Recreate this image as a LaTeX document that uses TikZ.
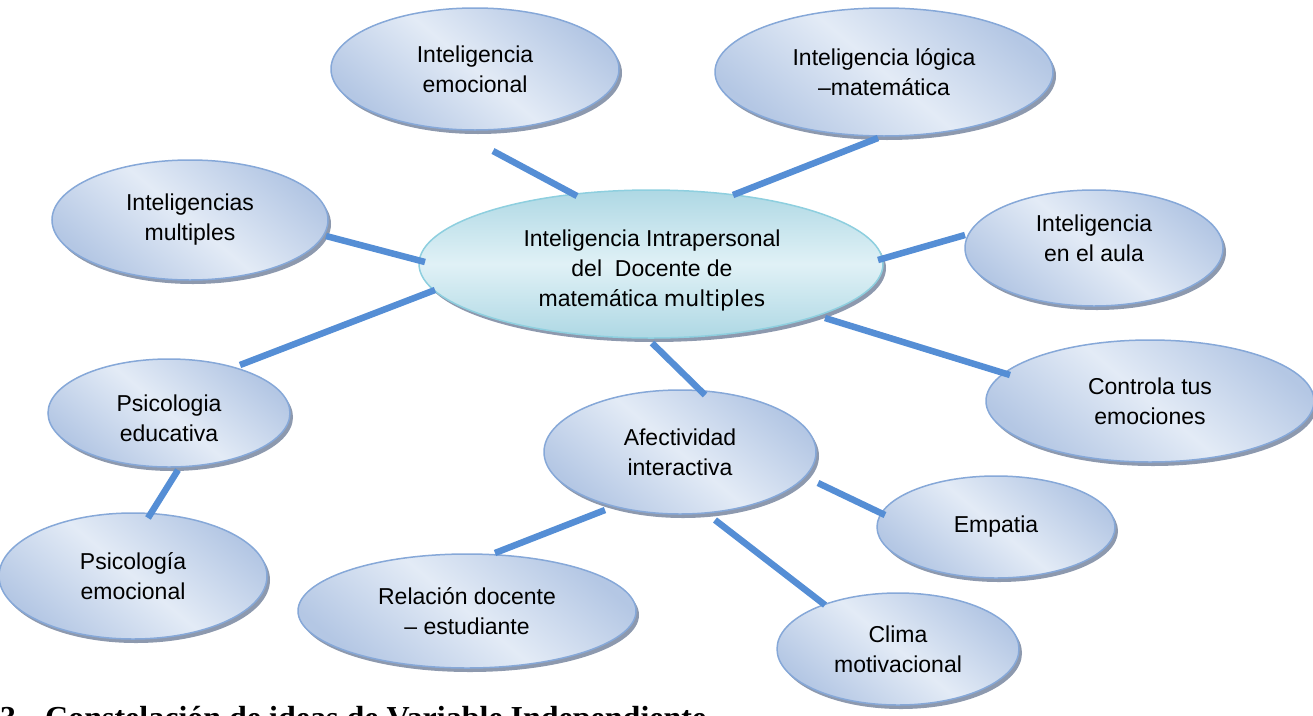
\documentclass[tikz,border=0pt]{standalone}
\usepackage{fontspec}
\setmainfont{Liberation Sans}
\newfontfamily\capfont{Liberation Serif}
\newfontfamily\widefont{DejaVu Sans}
\usetikzlibrary{shapes.geometric,shadows}

\definecolor{bubbleedge}{HTML}{86A8D8}
\definecolor{bubblelight}{HTML}{E3EBF6}
\definecolor{bubbledark}{HTML}{B4C7E4}
\definecolor{coreedge}{HTML}{8ECFDF}
\definecolor{corelight}{HTML}{E0F1F6}
\definecolor{coredark}{HTML}{AED8E4}
\definecolor{shadowgray}{HTML}{8D99AE}
\definecolor{linkblue}{HTML}{558ED5}

\tikzset{
  bubble/.style={ellipse, draw=bubbleedge, line width=1.5pt,
    top color=bubbledark, bottom color=bubbledark, middle color=bubblelight,
    shading angle=-40,
    drop shadow={shadow xshift=3pt, shadow yshift=-4pt, fill=shadowgray, opacity=1},
    inner sep=0pt, align=center, font=\fontsize{23}{30}\selectfont},
  core/.style={bubble, draw=coreedge,
    top color=coredark, bottom color=coredark, middle color=corelight},
  words/.style={align=center, inner sep=0pt, font=\fontsize{23}{30}\selectfont},
  link/.style={draw=linkblue, line width=6.5pt}
}

\begin{document}
\begin{tikzpicture}[x=1pt, y=-1pt]
\useasboundingbox (0,0) rectangle (1313,715);
\clip (0,0) rectangle (1313,715);

% idea bubbles
\node[core, minimum width=464pt, minimum height=148pt] (cen) at (651,264) {};
\node[words] (cen-t) at (652,270)
  {Inteligencia Intrapersonal\\del\ \ Docente de\\matemática {\widefont\fontsize{22}{30}\selectfont multiples}};
\node[bubble, minimum width=288pt, minimum height=122pt] (emo) at (475,69) {Inteligencia\\emocional};
\node[bubble, minimum width=338pt, minimum height=128pt] (log) at (884,72) {Inteligencia lógica\\–matemática};
\node[bubble, minimum width=276pt, minimum height=120pt] (mul) at (190,220) {Inteligencias\\multiples};
\node[bubble, minimum width=258pt, minimum height=116pt] (aul) at (1094,248) {};
\node[words] (aul-t) at (1094,238) {Inteligencia\\en el aula};
\node[bubble, minimum width=328pt, minimum height=122pt] (con) at (1150,401) {Controla tus\\emociones};
\node[bubble, minimum width=242pt, minimum height=108pt] (edu) at (169,413) {};
\node[words] (edu-t) at (169,418) {Psicologia\\educativa};
\node[bubble, minimum width=272pt, minimum height=124pt] (afe) at (680,452) {Afectividad\\interactiva};
\node[bubble, minimum width=238pt, minimum height=102pt] (emp) at (996,527) {Empatia};
\node[bubble, minimum width=268pt, minimum height=126pt] (pem) at (133,576) {Psicología\\emocional};
\node[bubble, minimum width=338pt, minimum height=114pt] (rel) at (467,611) {Relación docente\\– estudiante};
\node[bubble, minimum width=242pt, minimum height=112pt] (cli) at (898,649) {Clima\\motivacional};

% connector ends
\coordinate (emo-a) at (493,151); \coordinate (emo-b) at (577,196);
\coordinate (log-a) at (878,138); \coordinate (log-b) at (733,195);
\coordinate (mul-a) at (326,236); \coordinate (mul-b) at (425,262);
\coordinate (edu-a) at (240,365); \coordinate (edu-b) at (435,290);
\coordinate (aul-a) at (965,235); \coordinate (aul-b) at (878,260);
\coordinate (con-a) at (1010,375); \coordinate (con-b) at (825,318);
\coordinate (afe-a) at (705,395); \coordinate (afe-b) at (652,343);
\coordinate (emp-a) at (885,515); \coordinate (emp-b) at (818,483);
\coordinate (rel-a) at (495,553); \coordinate (rel-b) at (605,510);
\coordinate (cli-a) at (825,605); \coordinate (cli-b) at (715,520);
\coordinate (pem-a) at (148,518); \coordinate (pem-b) at (178,470);

\foreach \n in {emo,log,mul,edu,aul,con,afe,emp,rel,cli,pem}
  \draw[link] (\n-a) -- (\n-b);

% caption, cut by the lower edge
\node[anchor=base west, inner sep=0pt, font=\capfont\bfseries\fontsize{32}{36}\selectfont] (cap) at (0,728)
  {3.\hspace{21pt}Constelación de ideas de Variable Independiente};
\end{tikzpicture}
\end{document}
